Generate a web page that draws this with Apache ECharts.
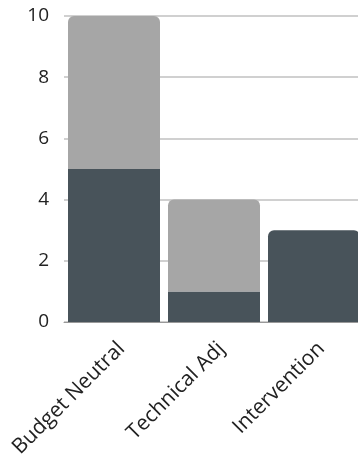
<!DOCTYPE html>
<html>
<head>
<meta charset="utf-8">
<style>
  html, body { margin: 0; padding: 0; background: #ffffff; overflow: hidden; }
  /* the drawing surface is a little wider than the window, so the last bar runs off the edge */
  #chart { width: 364px; height: 466px; }
</style>
<script src="https://cdn.jsdelivr.net/npm/echarts@6/dist/echarts.min.js"></script>
</head>
<body>
<div id="chart"></div>
<script>
// Categories and stacked values
const categories = ['Budget Neutral', 'Technical Adj', 'Intervention'];
const baseValues = [5, 1, 3];
const extraValues = [5, 3, 0];
const yTicks = { min: 0, max: 10, interval: 2 };

const darkColor = '#48535a';
const lightColor = '#a6a6a6';
const fontFamily = '"Open Sans", "Noto Sans", sans-serif';

const chart = echarts.init(document.getElementById('chart'), null, { renderer: 'canvas' });

// Round only the top of each stack: the upper segment when present, else the lower one
const baseData = baseValues.map((v, i) => ({
  value: v,
  itemStyle: { borderRadius: extraValues[i] > 0 ? 0 : [6, 6, 0, 0] }
}));
const extraData = extraValues.map(v => ({
  value: v,
  itemStyle: { borderRadius: [6, 6, 0, 0] }
}));

chart.setOption({
  animation: false,
  grid: { left: 64, right: 0, top: 16, height: 306, containLabel: false },
  xAxis: {
    type: 'category',
    data: categories,
    axisLine: { show: true, lineStyle: { color: '#999999', width: 1 } },
    axisTick: { show: false },
    axisLabel: {
      rotate: 45,
      color: '#222222',
      fontSize: 21,
      fontFamily: fontFamily,
      margin: 16,
      align: 'right',
      verticalAlign: 'top',
      interval: 0
    }
  },
  yAxis: {
    type: 'value',
    min: yTicks.min,
    max: yTicks.max,
    interval: yTicks.interval,
    axisLine: { show: false },
    axisTick: { show: false },
    axisLabel: {
      color: '#222222',
      fontSize: 19,
      fontFamily: fontFamily,
      margin: 15
    },
    splitLine: { lineStyle: { color: '#d0d0d0', width: 2 } }
  },
  series: [
    {
      type: 'bar',
      stack: 'total',
      data: baseData,
      barWidth: '92%',
      itemStyle: { color: darkColor }
    },
    {
      type: 'bar',
      stack: 'total',
      data: extraData,
      barWidth: '92%',
      itemStyle: { color: lightColor }
    }
  ]
});
</script>
</body>
</html>
